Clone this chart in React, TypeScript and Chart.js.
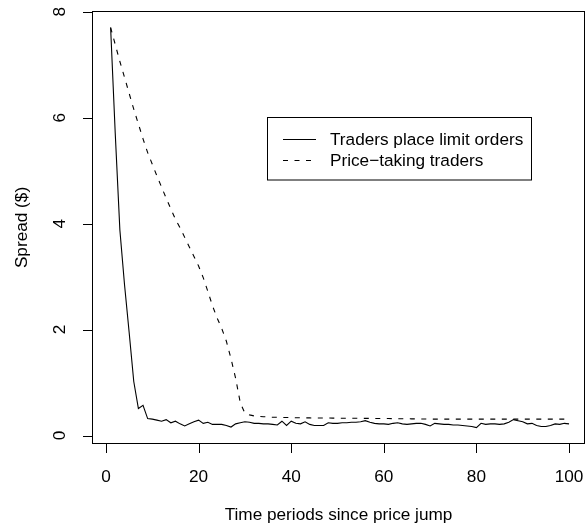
import React, { useEffect, useRef } from "react";
import { Chart, registerables } from "chart.js";

Chart.register(...registerables);

// ---- data ----
const periods: number[] = [
  1, 2, 3, 4, 5, 6, 7, 8, 9, 10, 11, 12, 13, 14, 15, 16, 17, 18, 19, 20,
  21, 22, 23, 24, 25, 26, 27, 28, 29, 30, 31, 32, 33, 34, 35, 36, 37, 38, 39, 40,
  41, 42, 43, 44, 45, 46, 47, 48, 49, 50, 51, 52, 53, 54, 55, 56, 57, 58, 59, 60,
  61, 62, 63, 64, 65, 66, 67, 68, 69, 70, 71, 72, 73, 74, 75, 76, 77, 78, 79, 80,
  81, 82, 83, 84, 85, 86, 87, 88, 89, 90, 91, 92, 93, 94, 95, 96, 97, 98, 99, 100,
];

const limitOrders: number[] = [
  7.7, 5.7, 3.88, 2.85, 1.95, 1.02, 0.51, 0.57, 0.32, 0.31,
  0.29, 0.27, 0.3, 0.24, 0.27, 0.22, 0.18, 0.22, 0.26, 0.29,
  0.23, 0.25, 0.21, 0.21, 0.21, 0.19, 0.16, 0.22, 0.24, 0.26,
  0.25, 0.23, 0.23, 0.22, 0.22, 0.21, 0.2, 0.27, 0.19, 0.27,
  0.23, 0.22, 0.26, 0.21, 0.19, 0.19, 0.19, 0.24, 0.23, 0.23,
  0.24, 0.24, 0.25, 0.25, 0.26, 0.28, 0.25, 0.23, 0.22, 0.22,
  0.21, 0.23, 0.24, 0.22, 0.21, 0.22, 0.23, 0.23, 0.21, 0.18,
  0.23, 0.22, 0.21, 0.21, 0.2, 0.2, 0.19, 0.18, 0.17, 0.15,
  0.23, 0.21, 0.22, 0.22, 0.21, 0.22, 0.25, 0.3, 0.28, 0.26,
  0.22, 0.23, 0.19, 0.17, 0.17, 0.19, 0.22, 0.21, 0.23, 0.22,
];

const priceTaking: number[] = [
  7.7, 7.38, 7.06, 6.76, 6.46, 6.16, 5.88, 5.6, 5.34, 5.12,
  4.9, 4.69, 4.48, 4.28, 4.08, 3.92, 3.74, 3.56, 3.38, 3.2,
  2.98, 2.72, 2.45, 2.22, 2.02, 1.78, 1.45, 1.08, 0.62, 0.42,
  0.39, 0.37, 0.36, 0.355, 0.35, 0.345, 0.345, 0.34, 0.34, 0.34,
  0.335, 0.335, 0.333, 0.333, 0.33, 0.33, 0.33, 0.33, 0.328, 0.328,
  0.327, 0.327, 0.326, 0.326, 0.325, 0.324, 0.323, 0.322, 0.321, 0.32,
  0.32, 0.319, 0.318, 0.317, 0.316, 0.315, 0.314, 0.313, 0.312, 0.311,
  0.31, 0.31, 0.31, 0.31, 0.31, 0.31, 0.31, 0.31, 0.31, 0.31,
  0.31, 0.31, 0.31, 0.31, 0.31, 0.31, 0.31, 0.31, 0.31, 0.31,
  0.31, 0.31, 0.31, 0.31, 0.31, 0.31, 0.31, 0.31, 0.31, 0.31,
];

const xTicks: number[] = [0, 20, 40, 60, 80, 100];
const yTicks: number[] = [0, 2, 4, 6, 8];

const seriesNames: string[] = ["Traders place limit orders", "Price\u2212taking traders"];
const xTitle = "Time periods since price jump";
const yTitle = "Spread ($)";

// ---- style ----
const FONT_SIZE = 17.2;
const FONT = `${FONT_SIZE}px "Liberation Sans", Arial, Helvetica, sans-serif`;
const TICK_LEN = 9.5;
const DASH = [5, 6.5];

const rAxesPlugin = {
  id: "rAxes",
  afterDraw(chart: any) {
    const { ctx, chartArea: a } = chart;
    const xs = chart.scales.x;
    const ys = chart.scales.y;
    ctx.save();
    ctx.strokeStyle = "#000";
    ctx.fillStyle = "#000";
    ctx.lineWidth = 1;
    ctx.setLineDash([]);

    const L = a.left + 0.5;
    const T = a.top + 0.5;
    const R = a.right - 0.5;
    const B = a.bottom - 0.5;
    ctx.strokeRect(L, T, R - L, B - T);

    // ticks
    ctx.beginPath();
    for (const v of xTicks) {
      const px = Math.round(xs.getPixelForValue(v)) + 0.5;
      ctx.moveTo(px, B);
      ctx.lineTo(px, B + TICK_LEN);
    }
    for (const v of yTicks) {
      const py = Math.round(ys.getPixelForValue(v)) + 0.5;
      ctx.moveTo(L, py);
      ctx.lineTo(L - TICK_LEN, py);
    }
    ctx.stroke();

    ctx.font = FONT;
    ctx.textAlign = "center";
    ctx.textBaseline = "alphabetic";
    for (const v of xTicks) {
      ctx.fillText(String(v), xs.getPixelForValue(v), 481.5);
    }
    for (const v of yTicks) {
      ctx.save();
      ctx.translate(65, ys.getPixelForValue(v));
      ctx.rotate(-Math.PI / 2);
      ctx.fillText(String(v), 0, 0);
      ctx.restore();
    }
    // axis titles
    ctx.fillText(xTitle, (a.left + a.right) / 2, 520);
    ctx.save();
    ctx.translate(26.5, (a.top + a.bottom) / 2);
    ctx.rotate(-Math.PI / 2);
    ctx.fillText(yTitle, 0, 0);
    ctx.restore();

    // legend
    const lx = 267.5, ly = 117.5, lw = 264, lh = 62.5;
    ctx.fillStyle = "#fff";
    ctx.fillRect(lx, ly, lw, lh);
    ctx.strokeStyle = "#000";
    ctx.strokeRect(lx, ly, lw, lh);
    const rows = [139, 160];
    rows.forEach((yy, i) => {
      ctx.beginPath();
      ctx.setLineDash(i === 0 ? [] : DASH);
      ctx.moveTo(283, yy + 0.5);
      ctx.lineTo(316, yy + 0.5);
      ctx.stroke();
      ctx.setLineDash([]);
      ctx.fillStyle = "#000";
      ctx.textAlign = "left";
      ctx.fillText(seriesNames[i], 330, yy + 6);
    });
    ctx.restore();
  },
};

export default function App() {
  const ref = useRef<HTMLCanvasElement | null>(null);
  useEffect(() => {
    if (!ref.current) return;
    const chart = new Chart(ref.current, {
      type: "line",
      data: {
        datasets: [
          {
            label: seriesNames[0],
            data: periods.map((p, i) => ({ x: p, y: limitOrders[i] })),
            borderColor: "#000",
            borderWidth: 1.1,
            pointRadius: 0,
            tension: 0,
            fill: false,
          },
          {
            label: seriesNames[1],
            data: periods.map((p, i) => ({ x: p, y: priceTaking[i] })),
            borderColor: "#000",
            borderWidth: 1.1,
            borderDash: DASH,
            pointRadius: 0,
            tension: 0,
            fill: false,
          },
        ],
      },
      options: {
        animation: false,
        responsive: false,
        devicePixelRatio: 1,
        layout: { padding: { left: 92, top: 11, right: 2, bottom: 85 } },
        plugins: { legend: { display: false }, tooltip: { enabled: false } },
        scales: {
          x: { type: "linear", min: -3.02, max: 103.45, display: false },
          y: { type: "linear", min: -0.16, max: 8.013, display: false },
        },
      },
      plugins: [rAxesPlugin],
    });
    return () => chart.destroy();
  }, []);
  return (
    <div style={{ position: "fixed", left: 0, top: 0, width: 587, height: 529, background: "#fff" }}>
      <canvas ref={ref} width={587} height={529} />
    </div>
  );
}
